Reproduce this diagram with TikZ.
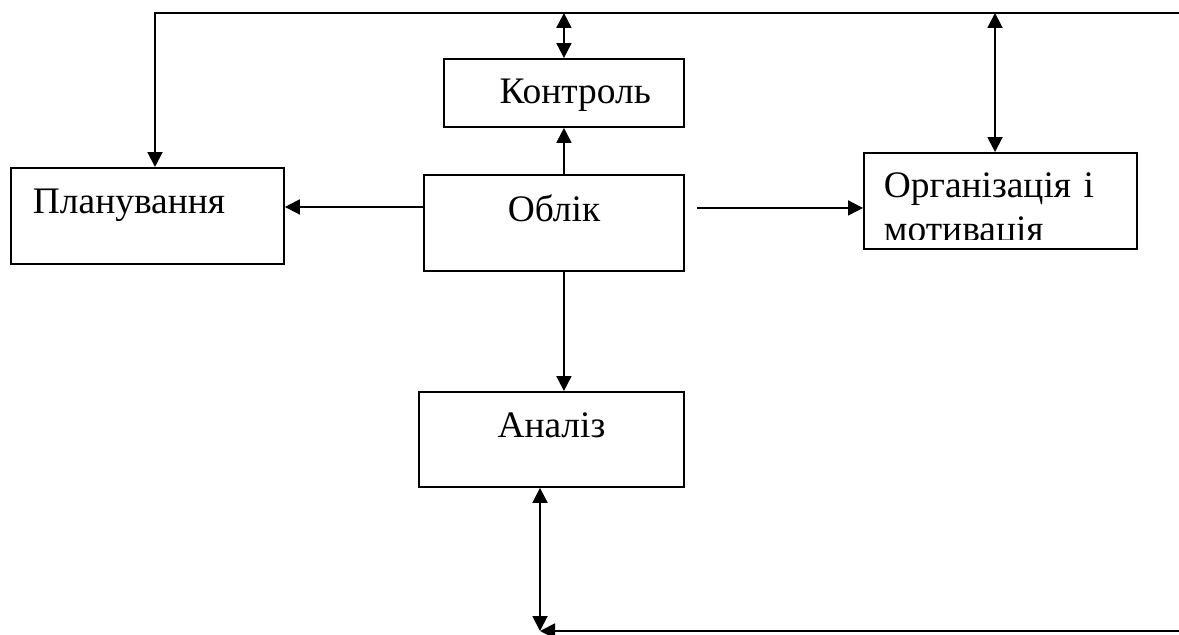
\documentclass[tikz,border=0pt]{standalone}
\usepackage{fontspec}
\setmainfont{Liberation Serif}
\usetikzlibrary{arrows.meta, positioning}

\begin{document}
\begin{tikzpicture}[ % схема: облік у центрі
    x=0.02cm, y=-0.02cm, % координати в пікселях
    block/.style={rectangle, draw, line width=1.1pt, inner sep=0pt, anchor=north west, font=\fontsize{21.3}{24}\selectfont},
    line/.style={draw, line width=1.1pt, -{Triangle[length=0.3cm, width=0.3cm]}},
    dline/.style={draw, line width=1.1pt, {Triangle[length=0.3cm, width=0.3cm]}-{Triangle[length=0.3cm, width=0.3cm]}}
    ]
    \useasboundingbox (0,0) rectangle (1179,635);

    % Blocks
    \node [block, text width=4.58cm, inner xsep=0.44cm, align=left, text height=0.92cm, text depth=1cm] (plan) at (10,167) {Планування};
    \node [block, text width=5.2cm, align=center, text height=0.94cm, text depth=0.98cm] (oblik) at (423,174) {Облік};
    \node [block, text width=3.48cm, inner xsep=0.66cm, align=right, text height=0.9cm, text depth=0.46cm] (kontrol) at (443,58) {Контроль};
    \node [block, text width=5.3cm, align=center, text height=0.92cm, text depth=0.98cm] (analiz) at (418,391) {Аналіз};
    \node [block, minimum width=5.46cm, minimum height=1.92cm] (org) at (863,152) {};
    \begin{scope} % текст обрізаний знизу
      \clip (org.north west) rectangle ([yshift=0.2cm]org.south east);
      \node [block, draw=none, anchor=base west, text width=5cm, align=left, font=\fontsize{21.3}{25.5}\selectfont] (orgtext) at (883,197) {Організація і\\мотивація};
    \end{scope}

    % Free ends
    \coordinate (topleft) at (155,13);
    \coordinate (topright) at (1179,13);
    \coordinate (orgtop) at (995,13);
    \coordinate (botright) at (1179,631);
    \coordinate (corner) at (540,631);
    \coordinate (toplan) at ([yshift=0.32cm]oblik.west);
    \coordinate (toorg) at ([xshift=0.24cm, yshift=0.3cm]oblik.east);

    % Draw edges
    \path [line] (topright) -- (topleft) -- (topleft |- plan.north);
    \path [dline] (kontrol.north |- topleft) -- (kontrol.north);
    \path [dline] (orgtop) -- (orgtop |- org.north);
    \path [line] (toplan) -- (toplan -| plan.east);
    \path [line] (toorg) -- (toorg -| org.west);
    \path [line] (kontrol.south |- oblik.north) -- (kontrol.south);
    \path [line] (kontrol.south |- oblik.south) -- (kontrol.south |- analiz.north);
    \path [dline] (corner |- analiz.south) -- (corner);
    \path [line] (botright) -- (corner);

\end{tikzpicture}
\end{document}
